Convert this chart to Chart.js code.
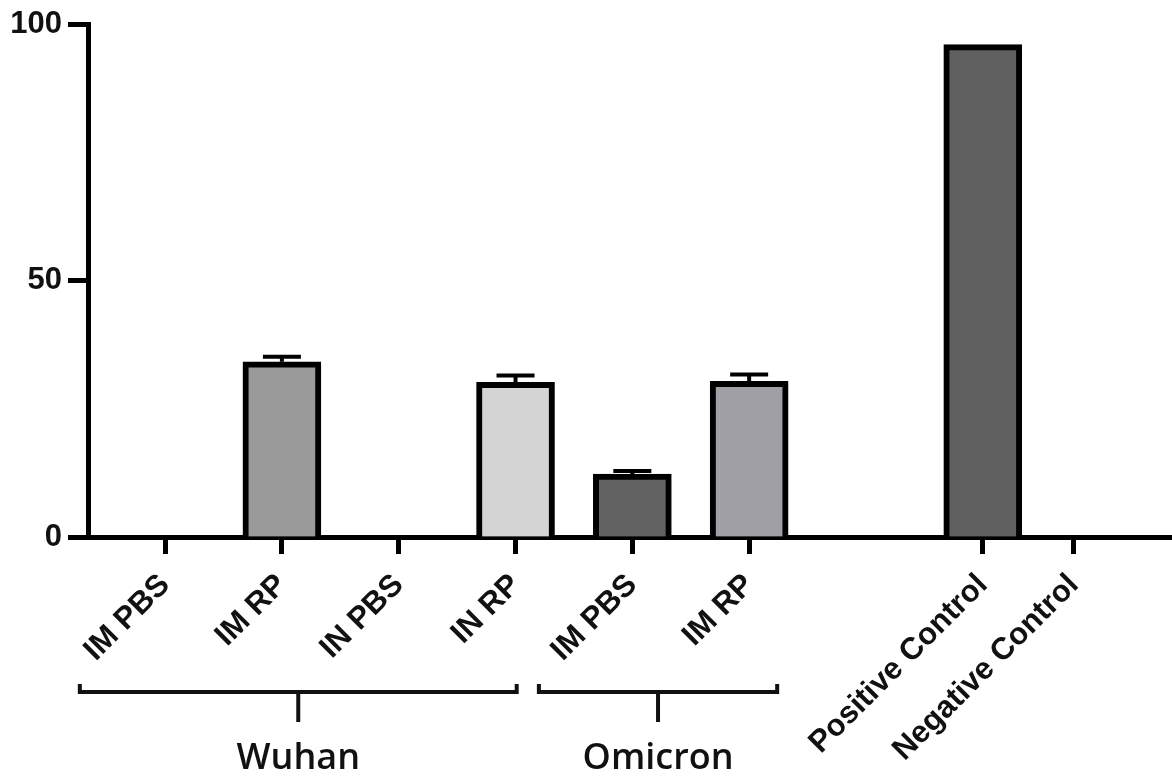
<!DOCTYPE html>
<html>
<head>
<meta charset="utf-8">
<script src="https://cdn.jsdelivr.net/npm/chart.js@4/dist/chart.umd.min.js"></script>
<style>
  html, body { margin: 0; padding: 0; background: #ffffff; }
  #wrap { width: 1172px; height: 776px; }
</style>
</head>
<body>
<div id="wrap"><canvas id="c" width="1172" height="776"></canvas></div>
<script>
// Groups on the x axis, their means and upper SEM
const categories = ['IM PBS', 'IM RP', 'IN PBS', 'IN RP', 'IM PBS', 'IM RP', 'Positive Control', 'Negative Control'];
const values = [0, 34.2, 0, 30.2, 12.3, 30.4, 96.1, 0];
const errors = [0, 1.0, 0, 1.3, 0.6, 1.3, 0, 0];
const yTicks = [0, 50, 100];

// Bracketed virus strains under the axis labels
const groupNames = ['Wuhan', 'Omicron'];

// Layout: slot of each bar along the axis, bracket spans in slot units
const slots = [0, 1, 2, 3, 4, 5, 7, 7.78];
const groupFrom = [-0.73, 3.2];
const groupTo = [3.01, 5.24];
const barColors = ['#9a9a9a', '#9a9a9a', '#d4d4d4', '#d4d4d4', '#626262', '#9f9fa5', '#606060', '#606060'];

const labelFont = { family: "'Liberation Sans', Arial, sans-serif", size: 31, weight: 'bold' };

const errorBars = {
  id: 'errorBars',
  afterDatasetsDraw(chart) {
    const { ctx, scales: { x, y } } = chart;
    ctx.save();
    ctx.strokeStyle = '#000';
    ctx.lineWidth = 4;
    ctx.lineCap = 'butt';
    values.forEach((v, i) => {
      if (!errors[i]) return;
      const px = x.getPixelForValue(slots[i]);
      const y1 = y.getPixelForValue(v);
      const y2 = y.getPixelForValue(v + errors[i]);
      ctx.beginPath();
      ctx.moveTo(px, y1);
      ctx.lineTo(px, y2);
      ctx.moveTo(px - 19, y2);
      ctx.lineTo(px + 19, y2);
      ctx.stroke();
    });
    ctx.restore();
  }
};

const groupBrackets = {
  id: 'groupBrackets',
  afterDraw(chart) {
    const { ctx, chartArea, scales: { x } } = chart;
    const yb = chartArea.bottom + 155;
    ctx.save();
    ctx.strokeStyle = '#111';
    ctx.lineWidth = 4;
    ctx.lineJoin = 'miter';
    ctx.fillStyle = '#111';
    ctx.font = "600 36px 'Open Sans', sans-serif";
    ctx.textAlign = 'center';
    ctx.textBaseline = 'alphabetic';
    groupNames.forEach((name, i) => {
      const a = x.getPixelForValue(groupFrom[i]);
      const b = x.getPixelForValue(groupTo[i]);
      const mid = (a + b) / 2;
      ctx.beginPath();
      ctx.moveTo(a, yb - 8);
      ctx.lineTo(a, yb);
      ctx.lineTo(b, yb);
      ctx.lineTo(b, yb - 8);
      ctx.moveTo(mid, yb);
      ctx.lineTo(mid, yb + 30);
      ctx.stroke();
      ctx.fillText(name, mid, yb + 77);
    });
    ctx.restore();
  }
};

new Chart(document.getElementById('c'), {
  type: 'bar',
  data: {
    datasets: [{
      data: values.map((v, i) => ({ x: slots[i], y: v })),
      backgroundColor: barColors,
      borderColor: '#000',
      borderWidth: 6,
      borderSkipped: 'start',
      barThickness: 78
    }]
  },
  options: {
    responsive: false,
    animation: false,
    devicePixelRatio: 1,
    layout: { padding: { top: 23, right: 0, bottom: 0, left: 0 } },
    plugins: { legend: { display: false }, tooltip: { enabled: false } },
    scales: {
      x: {
        type: 'linear',
        offset: false,
        min: -0.66,
        max: 8.62,
        afterBuildTicks: (scale) => { scale.ticks = slots.map(v => ({ value: v })); },
        afterFit: (scale) => { scale.height = 239; },
        grid: { offset: false, drawOnChartArea: false, drawTicks: true, tickLength: 17, tickWidth: 5, tickColor: '#000' },
        border: { display: true, color: '#000', width: 5 },
        ticks: {
          autoSkip: false,
          maxRotation: 45,
          minRotation: 45,
          padding: 13,
          color: '#111',
          font: labelFont,
          callback: (v) => categories[slots.indexOf(v)]
        }
      },
      y: {
        min: 0,
        max: 100,
        afterBuildTicks: (scale) => { scale.ticks = yTicks.map(v => ({ value: v })); },
        afterFit: (scale) => { scale.width = 88; },
        grid: { drawOnChartArea: false, drawTicks: true, tickLength: 20, tickWidth: 5, tickColor: '#000' },
        border: { display: true, color: '#000', width: 5 },
        ticks: { padding: 6, color: '#111', font: labelFont }
      }
    }
  },
  plugins: [errorBars, groupBrackets]
});
</script>
</body>
</html>
